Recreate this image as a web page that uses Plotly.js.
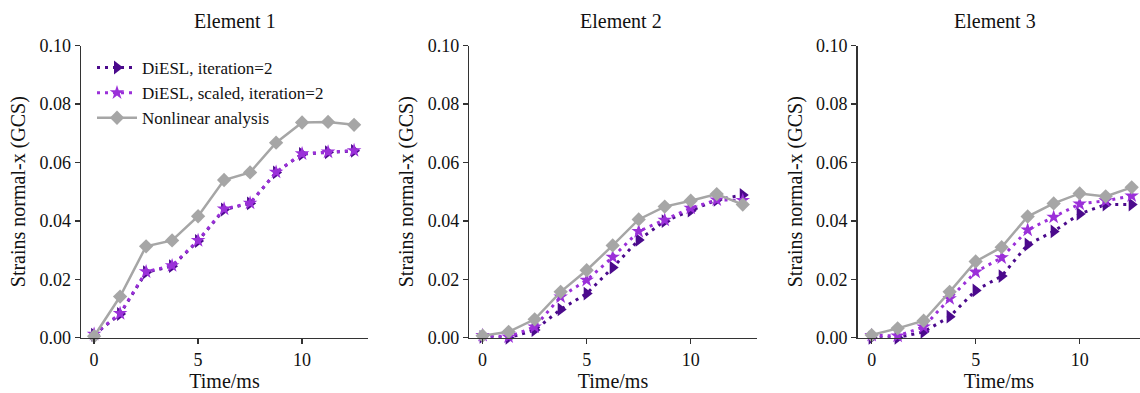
<!DOCTYPE html>
<html>
<head>
<meta charset="utf-8">
<script src="https://cdn.plot.ly/plotly-3.0.1.min.js"></script>
<style>
html,body{margin:0;padding:0;background:#fff;overflow:hidden;}
#chart{width:1140px;height:393px;}
</style>
</head>
<body>
<div id="chart"></div>
<script>
// Data
const time = [0, 1.25, 2.5, 3.75, 5, 6.25, 7.5, 8.75, 10, 11.25, 12.5];
const panelTitles = ["Element 1", "Element 2", "Element 3"];
const seriesNames = ["DiESL, iteration=2", "DiESL, scaled, iteration=2", "Nonlinear analysis"];

const e1_diesl  = [0.0010, 0.0081, 0.0224, 0.0245, 0.0331, 0.0439, 0.0460, 0.0566, 0.0629, 0.0635, 0.0640];
const e1_scaled = [0.0012, 0.0083, 0.0226, 0.0247, 0.0333, 0.0441, 0.0461, 0.0567, 0.0630, 0.0636, 0.0641];
const e1_nonlin = [0.0005, 0.0141, 0.0313, 0.0333, 0.0416, 0.0540, 0.0566, 0.0668, 0.0737, 0.0739, 0.0729];

const e2_diesl  = [0.0003, 0.0000, 0.0026, 0.0097, 0.0151, 0.0240, 0.0335, 0.0399, 0.0435, 0.0472, 0.0489];
const e2_scaled = [0.0008, 0.0003, 0.0037, 0.0140, 0.0197, 0.0276, 0.0364, 0.0403, 0.0444, 0.0472, 0.0470];
const e2_nonlin = [0.0007, 0.0020, 0.0063, 0.0157, 0.0231, 0.0316, 0.0405, 0.0449, 0.0469, 0.0492, 0.0456];

const e3_diesl  = [0.0000, 0.0000, 0.0020, 0.0072, 0.0162, 0.0211, 0.0319, 0.0364, 0.0424, 0.0456, 0.0456];
const e3_scaled = [0.0008, 0.0006, 0.0037, 0.0134, 0.0225, 0.0274, 0.0369, 0.0413, 0.0458, 0.0469, 0.0486];
const e3_nonlin = [0.0009, 0.0032, 0.0058, 0.0157, 0.0261, 0.0310, 0.0415, 0.0460, 0.0494, 0.0484, 0.0515];

const xTicks = [0, 5, 10];
const yTicks = [0, 0.02, 0.04, 0.06, 0.08, 0.10];
const yTickText = ["0.00", "0.02", "0.04", "0.06", "0.08", "0.10"];

const panels = [
  [e1_diesl, e1_scaled, e1_nonlin],
  [e2_diesl, e2_scaled, e2_nonlin],
  [e3_diesl, e3_scaled, e3_nonlin]
];

const C_DIESL = "#4b0a8c";
const C_SCALED = "#9b30d9";
const C_NONLIN = "#a6a6a6";
const FONT = "Liberation Serif, Times New Roman, serif";

const traces = [];
panels.forEach((p, i) => {
  const xa = i === 0 ? "x" : "x" + (i + 1);
  const ya = i === 0 ? "y" : "y" + (i + 1);
  traces.push({
    x: time, y: p[0], xaxis: xa, yaxis: ya, name: seriesNames[0],
    mode: "lines+markers", showlegend: i === 0, cliponaxis: false,
    line: {color: C_DIESL, width: 3, dash: "3px,5px"},
    marker: {symbol: "triangle-right", size: 12, color: C_DIESL}
  });
  traces.push({
    x: time, y: p[1], xaxis: xa, yaxis: ya, name: seriesNames[1],
    mode: "lines+markers", showlegend: i === 0, cliponaxis: false,
    line: {color: C_SCALED, width: 3, dash: "3px,5px"},
    marker: {symbol: "star", size: 11, color: C_SCALED}
  });
  traces.push({
    x: time, y: p[2], xaxis: xa, yaxis: ya, name: seriesNames[2],
    mode: "lines+markers", showlegend: i === 0, cliponaxis: false,
    line: {color: C_NONLIN, width: 2.5},
    marker: {symbol: "diamond", size: 11, color: C_NONLIN}
  });
});

const W = 1140, H = 393;
const xDomains = [[81 / W, 368 / W], [469.3 / W, 756.7 / W], [857.7 / W, 1.0]];
const xRanges = [[-0.63, 13.17], [-0.64, 13.17], [-0.67, 12.9]];
const yDom = [1 - 337.7 / H, 1 - 45.7 / H];

function xaxisDef(i) {
  return {
    domain: xDomains[i], range: xRanges[i], anchor: i === 0 ? "y" : "y" + (i + 1),
    tickvals: xTicks, ticktext: xTicks.map(String),
    ticks: "outside", ticklen: 5, tickwidth: 1.5, tickcolor: "#333",
    showline: true, linecolor: "#333", linewidth: 1.5,
    showgrid: false, zeroline: false,
    tickfont: {family: FONT, size: 18, color: "#111"},
    title: {text: "Time/ms", font: {family: FONT, size: 20, color: "#111"}, standoff: 4}
  };
}
function yaxisDef(i) {
  return {
    domain: yDom, range: [0, 0.1], anchor: i === 0 ? "x" : "x" + (i + 1),
    tickvals: yTicks, ticktext: yTickText,
    ticks: "outside", ticklen: 5, tickwidth: 1.5, tickcolor: "#333",
    showline: true, linecolor: "#333", linewidth: 1.5,
    showgrid: false, zeroline: false,
    tickfont: {family: FONT, size: 18, color: "#111"},
    title: {text: "Strains normal-x (GCS)", font: {family: FONT, size: 20, color: "#111"}, standoff: 8}
  };
}

const titleX = [235, 621, 995];
const annotations = panelTitles.map((t, i) => ({
  text: t, xref: "paper", yref: "paper", x: titleX[i] / W, y: 1 - 21 / H,
  xanchor: "center", yanchor: "middle", showarrow: false,
  font: {family: FONT, size: 20, color: "#111"}
}));

const layout = {
  width: W, height: H,
  margin: {l: 0, r: 0, t: 0, b: 0},
  paper_bgcolor: "#fff", plot_bgcolor: "#fff",
  font: {family: FONT, color: "#111"},
  xaxis: xaxisDef(0), yaxis: yaxisDef(0),
  xaxis2: xaxisDef(1), yaxis2: yaxisDef(1),
  xaxis3: xaxisDef(2), yaxis3: yaxisDef(2),
  annotations: annotations,
  showlegend: true,
  legend: {
    x: 92 / W, y: 1 - 50 / H, xanchor: "left", yanchor: "top",
    bgcolor: "rgba(0,0,0,0)", borderwidth: 0,
    font: {family: FONT, size: 17, color: "#111"},
    itemwidth: 40
  }
};

Plotly.newPlot("chart", traces, layout, {staticPlot: true, displayModeBar: false});
</script>
</body>
</html>
